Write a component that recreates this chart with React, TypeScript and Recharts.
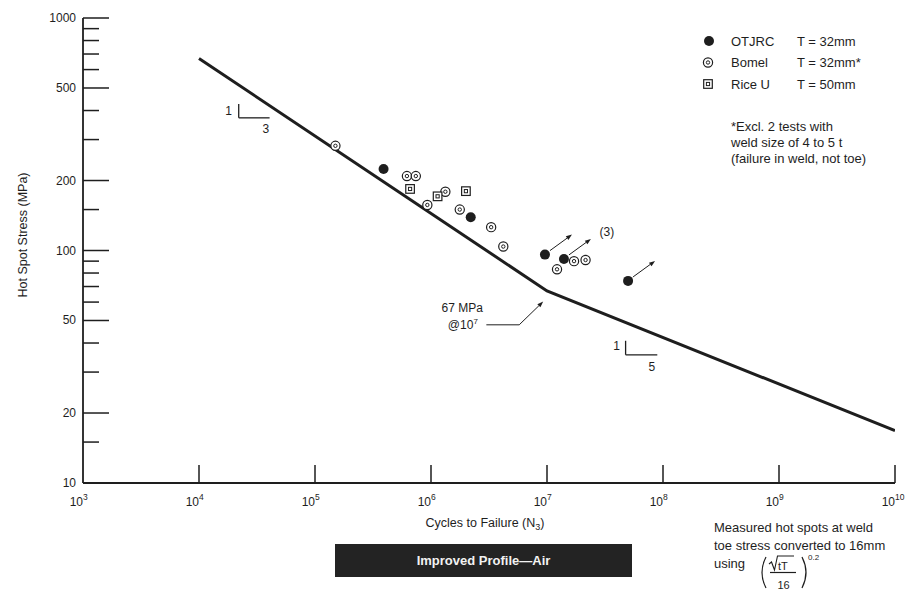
import React from 'react'
import { ScatterChart, Scatter, XAxis, YAxis, ReferenceLine, ReferenceDot } from 'recharts'

const INK = '#1e1e1e'
const FONT = '"Liberation Sans", Arial, Helvetica, sans-serif'

// design curve, improved profile in air: slope 1/3 down to the knee at 10^7, then 1/5
const curveN = [1e4, 1e7, 1e10]
const curveS = [670, 67, 16.8]

const otjrcN = [3.9e5, 2.2e6, 9.6e6, 1.4e7, 5.0e7]
const otjrcS = [224, 139, 96, 92, 74]
const otjrcRunout = [false, false, true, true, true]
const otjrcNote = ['', '', '', '(3)', '']

const bomelN = [1.5e5, 6.2e5, 7.4e5, 9.3e5, 1.33e6, 1.77e6, 3.3e6, 4.2e6, 1.22e7, 1.71e7, 2.15e7]
const bomelS = [282, 209, 209, 157, 179, 150, 126, 104, 83, 90, 91]

const riceN = [6.6e5, 1.14e6, 2.0e6]
const riceS = [184, 171, 180]

const xTicks = [1e3, 1e4, 1e5, 1e6, 1e7, 1e8, 1e9, 1e10]
const yMajor = [10, 20, 50, 100, 200, 500, 1000]
const yMinor = [15, 30, 40, 60, 70, 80, 90, 150, 300, 400, 600, 700, 800, 900]

// slope markers and the knee call-out
const slope3N = [2.2e4, 2.2e4, 4.06e4]
const slope3S = [427, 372, 372]
const slope5N = [4.76e7, 4.76e7, 8.93e7]
const slope5S = [40.9, 35.6, 35.6]
const kneeN = [3.0e6, 5.76e6, 9.27e6]
const kneeS = [47.9, 47.9, 60.3]

const curve = curveN.map((n, i) => ({ n, s: curveS[i] }))
const otjrc = otjrcN.map((n, i) => ({ n, s: otjrcS[i], runout: otjrcRunout[i], note: otjrcNote[i] }))
const bomel = bomelN.map((n, i) => ({ n, s: bomelS[i] }))
const rice = riceN.map((n, i) => ({ n, s: riceS[i] }))

const txt = { fontFamily: FONT, fill: INK }

function Arrow({ x1, y1, x2, y2 }: any) {
  const a = Math.atan2(y2 - y1, x2 - x1)
  const bx = x2 - 6 * Math.cos(a)
  const by = y2 - 6 * Math.sin(a)
  const px = -Math.sin(a) * 2.2
  const py = Math.cos(a) * 2.2
  return (
    <g>
      <line x1={x1} y1={y1} x2={bx} y2={by} stroke={INK} strokeWidth={1} />
      <polygon points={`${x2},${y2} ${bx + px},${by + py} ${bx - px},${by - py}`} fill={INK} />
    </g>
  )
}

const OtjrcMark = ({ cx, cy, payload }: any) => (
  <g>
    <circle cx={cx} cy={cy} r={5} fill={INK} />
    {payload?.runout && <Arrow x1={cx + 5} y1={cy - 4} x2={cx + 27} y2={cy - 20} />}
    {payload?.note && (
      <text x={cx + 43} y={cy - 23} textAnchor="middle" fontSize={12} {...txt}>{payload.note}</text>
    )}
  </g>
)

const BomelMark = ({ cx, cy }: any) => (
  <g>
    <circle cx={cx} cy={cy} r={4.6} fill="#fff" stroke={INK} strokeWidth={1.2} />
    <circle cx={cx} cy={cy} r={1.7} fill="none" stroke={INK} strokeWidth={1} />
  </g>
)

const RiceMark = ({ cx, cy }: any) => (
  <g>
    <rect x={cx - 4.3} y={cy - 4.3} width={8.6} height={8.6} fill="#fff" stroke={INK} strokeWidth={1.2} />
    <rect x={cx - 1.6} y={cy - 1.6} width={3.2} height={3.2} fill="none" stroke={INK} strokeWidth={1} />
  </g>
)

function XTick({ x, y, payload }: any) {
  const exp = Math.round(Math.log10(payload.value))
  return (
    <g>
      {exp > 3 && <line x1={x} y1={y} x2={x} y2={y - 18} stroke={INK} strokeWidth={1.5} />}
      <text x={x} y={y + 23} textAnchor="end" fontSize={12} {...txt}>10</text>
      <text x={x} y={y + 17} fontSize={8.5} {...txt}>{exp}</text>
    </g>
  )
}

function YTick({ x, y, payload }: any) {
  const v = payload.value
  const major = yMajor.includes(v)
  return (
    <g>
      {v > 10 && <line x1={x} y1={y} x2={x + (major ? 26 : 16)} y2={y} stroke={INK} strokeWidth={1.5} />}
      {major && <text x={x - 7} y={y + 4} textAnchor="end" fontSize={12} {...txt}>{v}</text>}
    </g>
  )
}

function SupLabel({ viewBox, base, sup }: any) {
  const { x, y } = viewBox
  return (
    <text x={x} y={y + 5} textAnchor="middle" fontSize={12} {...txt}>
      {base}<tspan fontSize={8} dy={-5}>{sup}</tspan>
    </text>
  )
}

const seg = (ns: number[], ss: number[], i: number) =>
  [{ x: ns[i], y: ss[i] }, { x: ns[i + 1], y: ss[i + 1] }]

const dotLabel = (n: number, s: number, value: string) => (
  <ReferenceDot x={n} y={s} r={1} fill="none" stroke="none"
    label={{ value, position: 'center', fontSize: 12, fill: INK, fontFamily: FONT }} />
)

export default function App() {
  return (
    <div style={{ position: 'absolute', left: 0, top: 0, width: 909, height: 592, background: '#fff' }}>
      <ScatterChart width={909} height={592} margin={{ top: 18, right: 14, bottom: 0, left: 0 }}>
        <XAxis type="number" dataKey="n" scale="log" domain={[1e3, 1e10]} allowDataOverflow
          ticks={xTicks} interval={0} tick={<XTick />} tickLine={false} tickSize={0} tickMargin={0}
          height={109} axisLine={{ stroke: INK, strokeWidth: 1.8 }} />
        <YAxis type="number" dataKey="s" scale="log" domain={[10, 1000]} allowDataOverflow
          ticks={[...yMajor, ...yMinor].sort((a, b) => a - b)} interval={0} tick={<YTick />}
          tickLine={false} tickSize={0} tickMargin={0} width={83}
          axisLine={{ stroke: INK, strokeWidth: 1.8 }} />

        <Scatter data={curve} fill={INK} line={{ stroke: INK, strokeWidth: 3 }}
          shape={() => <g />} isAnimationActive={false} />
        <Scatter data={bomel} shape={<BomelMark />} isAnimationActive={false} />
        <Scatter data={rice} shape={<RiceMark />} isAnimationActive={false} />
        <Scatter data={otjrc} shape={<OtjrcMark />} isAnimationActive={false} />

        <ReferenceLine segment={seg(slope3N, slope3S, 0)} stroke={INK} strokeWidth={1.3} />
        <ReferenceLine segment={seg(slope3N, slope3S, 1)} stroke={INK} strokeWidth={1.3} />
        <ReferenceLine segment={seg(slope5N, slope5S, 0)} stroke={INK} strokeWidth={1.3} />
        <ReferenceLine segment={seg(slope5N, slope5S, 1)} stroke={INK} strokeWidth={1.3} />
        <ReferenceLine segment={seg(kneeN, kneeS, 0)} stroke={INK} strokeWidth={1} />
        <ReferenceLine segment={seg(kneeN, kneeS, 1)} shape={(p: any) => <Arrow {...p} />} />

        {dotLabel(1.8e4, 399, '1')}
        {dotLabel(3.76e4, 334, '3')}
        {dotLabel(3.98e7, 38.9, '1')}
        {dotLabel(8.03e7, 31.7, '5')}
        {dotLabel(1.86e6, 56.5, '67 MPa')}
        <ReferenceDot x={1.92e6} y={47.9} r={1} fill="none" stroke="none"
          label={<SupLabel base="@10" sup="7" />} />
      </ScatterChart>

      <svg width={909} height={592} style={{ position: 'absolute', left: 0, top: 0, pointerEvents: 'none' }}>
        <text transform="translate(27,235) rotate(-90)" textAnchor="middle" fontSize={12.5} {...txt}>
          Hot Spot Stress (MPa)
        </text>
        <text x={485} y={527} textAnchor="middle" fontSize={12.5} {...txt}>
          Cycles to Failure (N<tspan fontSize={9} dy={3}>3</tspan><tspan dy={-3}>)</tspan>
        </text>

        {/* legend */}
        <OtjrcMark cx={709} cy={41} />
        <BomelMark cx={708} cy={62.5} />
        <RiceMark cx={708} cy={84} />
        <g fontSize={13} {...txt}>
          <text x={731} y={45.5}>OTJRC</text>
          <text x={797} y={45.5}>T = 32mm</text>
          <text x={731} y={67}>Bomel</text>
          <text x={797} y={67}>T = 32mm*</text>
          <text x={731} y={88.5}>Rice U</text>
          <text x={797} y={88.5}>T = 50mm</text>
          <text x={731} y={130.5}>*Excl. 2 tests with</text>
          <text x={731} y={146.5}>weld size of 4 to 5 t</text>
          <text x={731} y={163}>(failure in weld, not toe)</text>
        </g>

        <rect x={335} y={544} width={297} height={33} fill="#232323" />
        <text x={483.5} y={565} textAnchor="middle" fontSize={13} fontWeight="bold"
          fontFamily={FONT} fill="#f2f2f2">Improved Profile—Air</text>

        {/* thickness correction note */}
        <g fontSize={13} {...txt}>
          <text x={714} y={532}>Measured hot spots at weld</text>
          <text x={714} y={550}>toe stress converted to 16mm</text>
          <text x={714} y={567.5}>using</text>
        </g>
        <path d="M766 557 Q758 572.5 766 588" fill="none" stroke={INK} strokeWidth={1.2} />
        <path d="M802 557 Q810 572.5 802 588" fill="none" stroke={INK} strokeWidth={1.2} />
        <path d="M769 564 L771.5 562 L774.5 570 L777.5 556 L794 556" fill="none" stroke={INK} strokeWidth={1.1} />
        <text x={778} y={569.5} fontSize={11} {...txt}>tT</text>
        <line x1={770} y1={572.5} x2={796} y2={572.5} stroke={INK} strokeWidth={1.2} />
        <text x={783.5} y={589} textAnchor="middle" fontSize={11} {...txt}>16</text>
        <text x={808} y={560} fontSize={8} {...txt}>0.2</text>
      </svg>
    </div>
  )
}
